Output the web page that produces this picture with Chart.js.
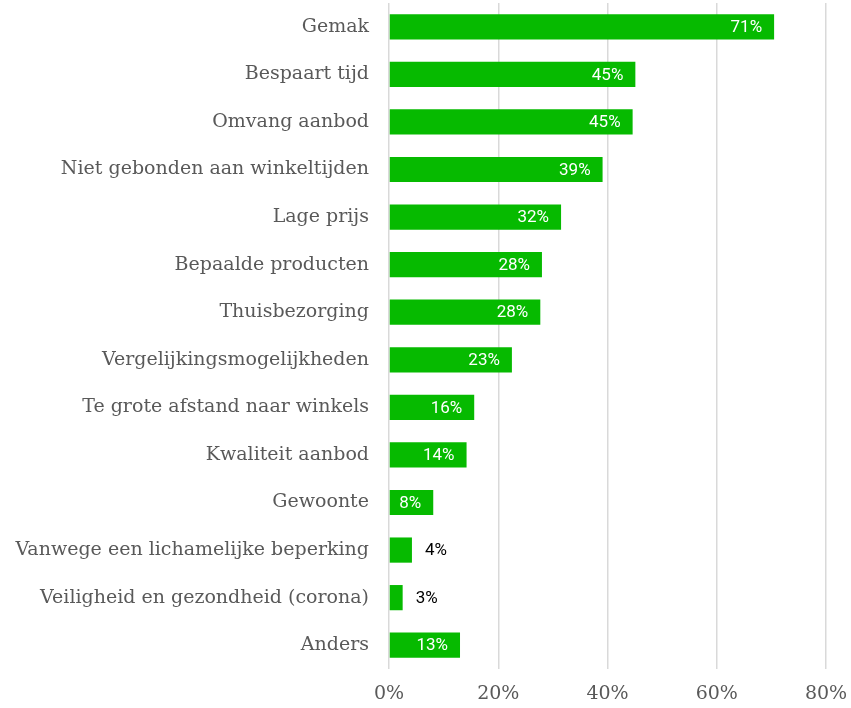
<!DOCTYPE html>
<html>
<head>
<meta charset="utf-8">
<script src="https://cdn.jsdelivr.net/npm/chart.js@4.4.1/dist/chart.umd.min.js"></script>
<style>
  html,body{margin:0;padding:0;background:#fff;}
  #wrap{width:851px;height:708px;}
</style>
</head>
<body>
<div id="wrap"><canvas id="chart" width="851" height="708"></canvas></div>
<script>
// Data
const categories = [
  'Gemak','Bespaart tijd','Omvang aanbod','Niet gebonden aan winkeltijden','Lage prijs',
  'Bepaalde producten','Thuisbezorging','Vergelijkingsmogelijkheden','Te grote afstand naar winkels',
  'Kwaliteit aanbod','Gewoonte','Vanwege een lichamelijke beperking','Veiligheid en gezondheid (corona)','Anders'
];
const values = [70.5, 45.1, 44.6, 39.1, 31.5, 28.0, 27.7, 22.5, 15.6, 14.2, 8.1, 4.2, 2.5, 13.0];
const xTicks = [0, 20, 40, 60, 80];

const GREEN = '#06ba00';
const GREY = '#595959';

// value labels: white inside the bar, black next to it when it does not fit
const barLabels = {
  id:'barLabels',
  afterDatasetsDraw(chart){
    const ctx = chart.ctx; const meta = chart.getDatasetMeta(0);
    ctx.save();
    ctx.font = '17px Roboto'; ctx.textBaseline = 'middle';
    meta.data.forEach((bar,i)=>{
      const txt = Math.round(values[i]) + '%';
      const w = ctx.measureText(txt).width;
      if(bar.x - bar.base > w + 20){
        ctx.fillStyle = '#fff'; ctx.textAlign = 'right';
        ctx.fillText(txt, bar.x - 12, bar.y + 1);
      } else {
        ctx.fillStyle = '#000'; ctx.textAlign = 'left';
        ctx.fillText(txt, bar.x + 13, bar.y + 1);
      }
    });
    ctx.restore();
  }
};

new Chart(document.getElementById('chart').getContext('2d'), {
  type:'bar',
  data:{ labels:categories, datasets:[{ data:values, backgroundColor:GREEN, borderWidth:0, barPercentage:0.53, categoryPercentage:1 }] },
  options:{
    indexAxis:'y', responsive:false, animation:false, devicePixelRatio:1,
    layout:{ padding:{ top:3, right:25, left:0, bottom:0 } },
    plugins:{ legend:{ display:false }, tooltip:{ enabled:false } },
    scales:{
      x:{
        min:xTicks[0], max:xTicks[xTicks.length-1],
        afterBuildTicks:(s)=>{ s.ticks = xTicks.map(v=>({ value:v })); },
        ticks:{ callback:(v)=>v+'%', color:GREY, font:{ family:'DejaVu Serif', size:19 }, padding:14 },
        grid:{ color:'#d9d9d9', lineWidth:1.5, drawTicks:false },
        border:{ display:false },
        afterFit:(s)=>{ s.height = 39; s.paddingLeft = 0; s.paddingRight = 0; }
      },
      y:{
        ticks:{ color:GREY, font:{ family:'DejaVu Serif', size:19 }, padding:12 },
        grid:{ display:false },
        border:{ display:false },
        afterFit:(s)=>{ s.width = 389; s.paddingTop = 0; s.paddingBottom = 0; }
      }
    }
  },
  plugins:[barLabels]
});
</script>
</body>
</html>
